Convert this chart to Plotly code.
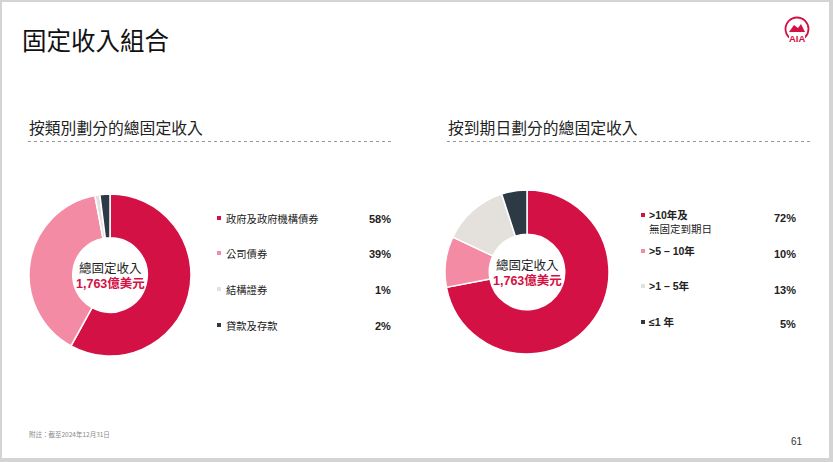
import plotly.graph_objects as go

W, H = 833, 462

# ---- data ----
type_labels = ["政府及政府機構債券", "公司債券", "結構證券", "貸款及存款"]
type_values = [58, 39, 1, 2]
mat_labels = [">10年及<br>無固定到期日", ">5 – 10年", ">1 – 5年", "≤1 年"]
mat_values = [72, 10, 13, 5]
colors = ["#D31145", "#F48BA4", "#E4E0DC", "#2D3A46"]
total_text = "1,763億美元"

FONT = "Liberation Sans, Noto Sans CJK TC, sans-serif"
CJK = "Noto Sans CJK TC, sans-serif"


def px(x):
    return x / W


def py(y):
    return 1 - y / H


fig = go.Figure()

fig.add_trace(go.Pie(
    values=type_values, labels=type_labels, sort=False, direction="clockwise",
    rotation=0, hole=0.46, textinfo="none", hoverinfo="label+percent",
    marker=dict(colors=colors, line=dict(color="white", width=1.5)),
    domain=dict(x=[px(29), px(191)], y=[py(356), py(194)]), showlegend=False,
))
fig.add_trace(go.Pie(
    values=mat_values, labels=mat_labels, sort=False, direction="clockwise",
    rotation=0, hole=0.46, textinfo="none", hoverinfo="label+percent",
    marker=dict(colors=colors, line=dict(color="white", width=1.5)),
    domain=dict(x=[px(445), px(609)], y=[py(354), py(190)]), showlegend=False,
))

shapes = []
annotations = []

# slide background / border
shapes.append(dict(type="rect", xref="paper", yref="paper", x0=px(2), x1=px(829),
                   y0=py(458), y1=py(2), fillcolor="white", line=dict(width=0), layer="below"))

# title
annotations.append(dict(text="固定收入組合", x=px(20), y=py(40), xref="paper", yref="paper",
                        xanchor="left", yanchor="middle", showarrow=False,
                        font=dict(family=CJK, size=24.5, color="#111")))

# section titles + dotted lines
for x0, x1, t in [(28, 393, "按類別劃分的總固定收入"), (447, 812, "按到期日劃分的總固定收入")]:
    annotations.append(dict(text=t, x=px(x0 - 1), y=py(128), xref="paper", yref="paper",
                            xanchor="left", yanchor="middle", showarrow=False,
                            font=dict(family=CJK, size=15.8, color="#222")))
    shapes.append(dict(type="line", xref="paper", yref="paper", x0=px(x0), x1=px(x1),
                       y0=py(141.5), y1=py(141.5), line=dict(color="#999", width=1, dash="dot")))

# centre texts
for cx, cy in [(110, 275), (527, 272)]:
    annotations.append(dict(text="總固定收入", x=px(cx), y=py(cy - 8), xref="paper", yref="paper",
                            xanchor="center", yanchor="middle", showarrow=False,
                            font=dict(family=CJK, size=12.5, color="#222")))
    annotations.append(dict(text="<b>" + total_text + "</b>", x=px(cx), y=py(cy + 8), xref="paper",
                            yref="paper", xanchor="center", yanchor="middle", showarrow=False,
                            font=dict(family=FONT, size=12.5, color="#D31145")))

# left legend
left_y = [218, 253, 289, 325]
for lab, val, c, y in zip(type_labels, type_values, colors, left_y):
    shapes.append(dict(type="rect", xref="paper", yref="paper", x0=px(217), x1=px(221),
                       y0=py(y + 2), y1=py(y - 2), fillcolor=c, line=dict(width=0)))
    annotations.append(dict(text=lab, x=px(224), y=py(y), xref="paper", yref="paper",
                            xanchor="left", yanchor="middle", showarrow=False,
                            font=dict(family=CJK, size=10.3, color="#222")))
    annotations.append(dict(text="<b>%d%%</b>" % val, x=px(393), y=py(y + 1), xref="paper",
                            yref="paper", xanchor="right", yanchor="middle", showarrow=False,
                            font=dict(family=FONT, size=11, color="#222")))

# right legend
right_y = [215, 251, 286, 322]
pct_y = [218, 254, 290, 324]
for lab, val, c, y, yp in zip(mat_labels, mat_values, colors, right_y, pct_y):
    shapes.append(dict(type="rect", xref="paper", yref="paper", x0=px(641), x1=px(645),
                       y0=py(y + 2), y1=py(y - 2), fillcolor=c, line=dict(width=0)))
    parts = lab.split("<br>")
    txt = "<b>" + parts[0] + "</b>" + ("<br>" + parts[1] if len(parts) > 1 else "")
    annotations.append(dict(text=txt, x=px(647), y=py(y - 8), xref="paper", yref="paper",
                            xanchor="left", yanchor="top", align="left", showarrow=False,
                            font=dict(family=FONT, size=10.5, color="#222")))
    annotations.append(dict(text="<b>%d%%</b>" % val, x=px(798), y=py(yp), xref="paper",
                            yref="paper", xanchor="right", yanchor="middle", showarrow=False,
                            font=dict(family=FONT, size=11, color="#222")))

# footnote & page number
annotations.append(dict(text="附註：截至2024年12月31日", x=px(27), y=py(434), xref="paper", yref="paper",
                        xanchor="left", yanchor="middle", showarrow=False,
                        font=dict(family=CJK, size=6.5, color="#888")))
annotations.append(dict(text="61", x=px(805), y=py(441), xref="paper", yref="paper",
                        xanchor="right", yanchor="middle", showarrow=False,
                        font=dict(family=FONT, size=10, color="#333")))

# AIA logo (approximation)
lx, ly, r = 797, 29, 11.5
shapes.append(dict(type="circle", xref="paper", yref="paper",
                   x0=px(lx - r), x1=px(lx + r), y0=py(ly + r), y1=py(ly - r),
                   line=dict(color="#D31145", width=1.8)))
shapes.append(dict(type="rect", xref="paper", yref="paper",
                   x0=px(lx - 8), x1=px(lx + 8), y0=py(ly + 14), y1=py(ly + 5),
                   fillcolor="white", line=dict(width=0)))
shapes.append(dict(type="path", xref="paper", yref="paper",
                   path="M {} {} L {} {} L {} {} L {} {} L {} {} Z".format(
                       px(lx - 8), py(ly + 3), px(lx - 3), py(ly - 4), px(lx + 1), py(ly - 1),
                       px(lx + 4), py(ly - 5), px(lx + 8), py(ly + 3)),
                   fillcolor="#D31145", line=dict(width=0)))
annotations.append(dict(text="<b>AIA</b>", x=px(lx), y=py(ly + 10), xref="paper", yref="paper",
                        xanchor="center", yanchor="middle", showarrow=False,
                        font=dict(family=FONT, size=9.5, color="#D31145")))

fig.update_layout(
    width=W, height=H, margin=dict(l=0, r=0, t=0, b=0),
    paper_bgcolor="#d4d4d4", plot_bgcolor="white",
    shapes=shapes, annotations=annotations,
)
fig.write_html("out.html", config={"displayModeBar": False},
               post_script="document.body.style.margin='0';")
